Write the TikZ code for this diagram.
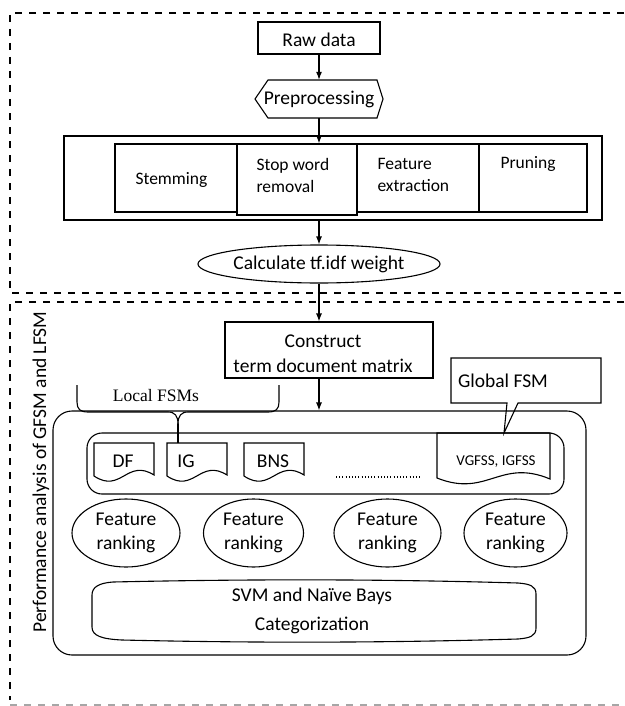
\documentclass[tikz,border=0pt]{standalone}
\usepackage{fontspec}
\setmainfont{Carlito}
\newfontfamily\bracefont{Liberation Serif}
\usetikzlibrary{arrows.meta,shapes.geometric}

\tikzset{
  line/.style={line width=1.1pt},
  boxshape/.style={draw, line width=1.1pt, rectangle, inner sep=0pt},
  big/.style={font=\fontsize{19.5}{24}\selectfont},
  mid/.style={font=\fontsize{17.5}{22}\selectfont},
  small/.style={font=\fontsize{15}{18}\selectfont},
  frame/.style={line width=1.4pt, dash pattern=on 7pt off 7pt},
  flow/.style={line width=1.1pt, -{Latex[length=8pt,width=6pt]}},
  rank/.style={draw, ellipse, line width=1.1pt, inner sep=0pt,
    minimum height=68pt, align=center, font=\fontsize{19.5}{24}\selectfont},
}

\begin{document}
\begin{tikzpicture}[x=1pt,y=-1pt]
\useasboundingbox (0,0) rectangle (624,706);

% dashed frames of the two stages
\draw[frame] (624,13) -- (10,13) -- (10,293) -- (624,293);
\draw[frame] (624,302) -- (10,302) -- (10,700);
\draw[frame, black!35] (10,705) -- (624,705);

% ---- stage 1: preprocessing ----
\node[boxshape, minimum width=122pt, minimum height=32pt] (raw) at (319,38) {};
\node[big] (rawtxt) at (319,40) {Raw data};

\draw[line] (255,99) -- (268,80) -- (377,80) -- (383,99) -- (377,118) -- (268,118) -- cycle;
\node[big, minimum width=128pt, minimum height=38pt, inner sep=0pt] (pre) at (319,99) {Preprocessing};

\node[boxshape, minimum width=538pt, minimum height=84pt] (steps) at (333,178) {};
\node[boxshape, minimum width=122pt, minimum height=68pt] (stem) at (176,178) {};
\node[boxshape, minimum width=120pt, minimum height=71pt] (stop) at (297,179.5) {};
\node[boxshape, minimum width=122pt, minimum height=68pt] (feat) at (418,178) {};
\node[boxshape, minimum width=108pt, minimum height=68pt] (prun) at (533,178) {};
\node[mid, anchor=west] (stemtxt) at (132,180) {Stemming};
\node[mid, anchor=west, align=left] (stoptxt) at (253,175) {Stop word\\removal};
\node[mid, anchor=west, align=left] (feattxt) at (374,175) {Feature\\extraction};
\node[mid, anchor=west] (pruntxt) at (497,164) {Pruning};

\node[draw, ellipse, line width=1.1pt, inner sep=0pt, minimum width=208pt,
  minimum height=38pt, big] (tfidf) at (319,264) {Calculate tf.idf weight};

\draw[flow] (raw.south) -- (pre.north);
\draw[flow] (pre.south) -- (pre.south |- stop.north);
\draw[flow] (tfidf.north |- steps.south) -- (tfidf.north);

% ---- stage 2: feature selection and categorization ----
\node[big, rotate=90] (perf) at (41,472) {Performance analysis of GFSM and LFSM};

\node[boxshape, minimum width=208pt, minimum height=56pt] (cons) at (329,350) {};
\node[big, align=center, font=\fontsize{19.5}{25}\selectfont] (constxt) at (323,354) {Construct\\term document matrix};

\node[draw, line width=1.1pt, rounded corners=19pt, minimum width=533pt,
  minimum height=244pt] (fsmarea) at (319.5,533) {};
\node[draw, line width=1.1pt, rounded corners=15pt, minimum width=477pt,
  minimum height=61pt] (methods) at (325.5,463.5) {};

\draw[flow] (tfidf.south) -- (tfidf.south |- cons.north);
\draw[flow] (tfidf.south |- cons.south) -- (tfidf.south |- fsmarea.north);

% document shapes of the selection methods
\draw[line] (94,443) -- (154,443) -- (154,475) .. controls (127,458) and (121,494) .. (94,476) -- cycle;
\draw[line] (167,443) -- (227,443) -- (227,475) .. controls (200,458) and (194,494) .. (167,476) -- cycle;
\draw[line] (244,443) -- (304,443) -- (304,475) .. controls (277,458) and (271,494) .. (244,476) -- cycle;
\draw[line] (437,433) -- (550,433) -- (550,479) .. controls (500,458) and (487,498) .. (437,478) -- cycle;
\node[big] (df) at (123,461) {DF};
\node[big] (ig) at (186,461) {IG};
\node[big] (bns) at (273,461) {BNS};
\node[small] (vg) at (496,462) {VGFSS, IGFSS};
\coordinate (igtop) at (178,443);
\coordinate (vgtop) at (504,433);
\draw[line width=1.3pt, dash pattern=on 1pt off 2.2pt] (336,477) -- (420,477);

% local methods brace
\coordinate (bracetip) at (178,424);
\draw[line] (77,385) -- (77,402) .. controls (77,409) and (80,412) .. (88,412) -- (168,412)
  .. controls (175,412) and (178,416) .. (bracetip);
\draw[line] (279,385) -- (279,402) .. controls (279,409) and (276,412) .. (268,412) -- (188,412)
  .. controls (181,412) and (178,416) .. (bracetip);
\draw[line] (bracetip) -- (igtop);
\node[font=\bracefont\fontsize{17.5}{20}\selectfont] (local) at (156,396) {Local FSMs};

% global method callout
\draw[line] (451,358) -- (601,358) -- (601,403) -- (518,403) -- (vgtop) -- (507,403) -- (451,403) -- cycle;
\node[big] (global) at (503,381) {Global FSM};

% ranking and classification
\node[rank, minimum width=108pt] (fr1) at (126,533) {Feature\\ranking};
\node[rank, minimum width=100pt] (fr2) at (253.5,533) {Feature\\ranking};
\node[rank, minimum width=107pt] (fr3) at (387.5,533) {Feature\\ranking};
\node[rank, minimum width=103pt] (fr4) at (515.5,533) {Feature\\ranking};

\draw[line] (92,600) -- (92,595) .. controls (92,587) and (99,583) .. (113,582)
  .. controls (250,579) and (380,579) .. (518,583)
  .. controls (530,584) and (536,586) .. (536,594) -- (536,628)
  .. controls (536,636) and (530,638) .. (518,639)
  .. controls (380,643) and (250,643) .. (122,640)
  .. controls (102,639) and (92,636) .. (92,627) -- cycle;
\node[align=center, font=\fontsize{19.5}{29}\selectfont] (svm) at (312,611) {SVM and Naïve Bays\\Categorization};

\end{tikzpicture}
\end{document}
